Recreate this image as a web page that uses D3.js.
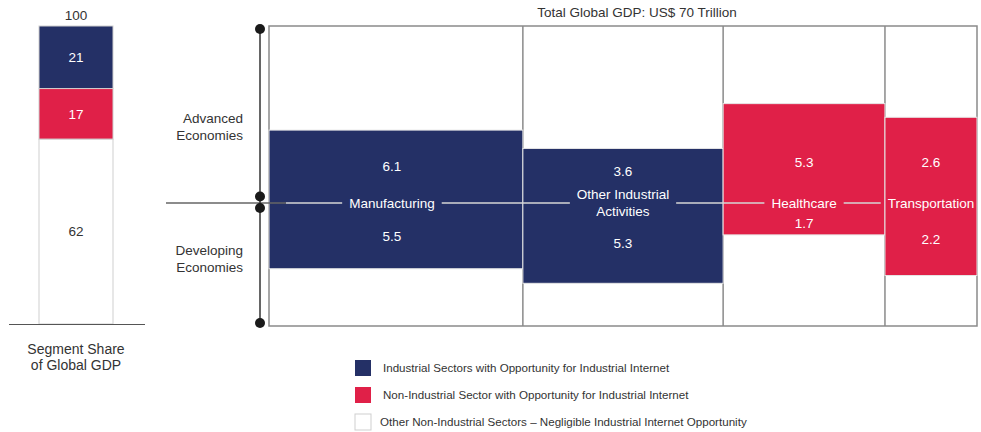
<!DOCTYPE html>
<html>
<head>
<meta charset="utf-8">
<script src="https://cdn.jsdelivr.net/npm/d3@7/dist/d3.min.js"></script>
<style>
  body { margin: 0; background: #fff; }
  text { font-family: "Liberation Sans", Arial, sans-serif; }
</style>
</head>
<body>
<svg id="chart" width="981" height="432"></svg>
<script>
// Segment share of global GDP (%), stacked from the top
const segmentNames = ["Industrial", "Non-Industrial", "Other"];
const segmentShares = [21, 17, 62];
const segmentTotal = 100;

// Sectors (columns) and their share of the US$ 70 trillion global GDP
const sectors = ["Manufacturing", "Other Industrial Activities", "Healthcare", "Transportation"];
const sectorLabelLines = [["Manufacturing"], ["Other Industrial", "Activities"], ["Healthcare"], ["Transportation"]];
const sectorGDP = [25.1, 19.8, 16.0, 9.1];          // US$ trillion
const sectorType = ["industrial", "industrial", "non-industrial", "non-industrial"];
const advancedValues = [6.1, 3.6, 5.3, 2.6];          // US$ trillion
const developingValues = [5.5, 5.3, 1.7, 2.2];        // US$ trillion
const regionShares = [59, 41];                         // Advanced / Developing economies, %
const totalGDP = 70;

const legendLabels = [
  "Industrial Sectors with Opportunity for Industrial Internet",
  "Non-Industrial Sector with Opportunity for Industrial Internet",
  "Other Non-Industrial Sectors \u2013 Negligible Industrial Internet Opportunity"
];

const NAVY = "#243066", RED = "#e02048", TEXT = "#333";
const FS = 13.5;
const fill = { "industrial": NAVY, "non-industrial": RED };

const svg = d3.select("#chart");

// ---------- Left: segment share stacked bar ----------
const segY = d3.scaleLinear().domain([0, segmentTotal]).range([324, 26]);
const segX0 = 39, segW = 74;
const segColors = [NAVY, RED, "#fff"];
let acc = segmentTotal;
const segs = segmentShares.map((v, i) => {
  const top = acc; acc -= v;
  return { v, top, bottom: acc, color: segColors[i] };
});
svg.append("g").selectAll("rect").data(segs).join("rect")
  .attr("x", segX0).attr("width", segW)
  .attr("y", d => segY(d.top)).attr("height", d => segY(d.bottom) - segY(d.top))
  .attr("fill", d => d.color).attr("stroke", "#cfcfcf").attr("stroke-width", 1);
svg.append("g").selectAll("text").data(segs).join("text")
  .attr("x", segX0 + segW / 2)
  .attr("y", d => (segY(d.top) + segY(d.bottom)) / 2)
  .attr("dy", "0.35em").attr("text-anchor", "middle")
  .attr("font-size", FS)
  .attr("fill", d => d.color === "#fff" ? TEXT : "#fff")
  .text(d => d.v);
svg.append("text").attr("x", segX0 + segW / 2).attr("y", segY(segmentTotal) - 11)
  .attr("dy", "0.35em").attr("text-anchor", "middle").attr("font-size", FS).attr("fill", TEXT)
  .text(segmentTotal);
svg.append("line").attr("x1", 9).attr("x2", 145).attr("y1", 324.5).attr("y2", 324.5)
  .attr("stroke", "#555").attr("stroke-width", 1.2);
svg.append("text").attr("x", 76).attr("y", 349).attr("dy", "0.35em").attr("text-anchor", "middle")
  .attr("font-size", 14).attr("fill", TEXT).text("Segment Share");
svg.append("text").attr("x", 76).attr("y", 365).attr("dy", "0.35em").attr("text-anchor", "middle")
  .attr("font-size", 14).attr("fill", TEXT).text("of Global GDP");

// ---------- Right: Marimekko of sector GDP by economy ----------
const fx0 = 269, fx1 = 977, fy0 = 26, fy1 = 326;
const x = d3.scaleLinear().domain([0, totalGDP]).range([fx0, fx1]);
const yRegion = d3.scaleLinear().domain([0, 100]).range([fy0, fy1]);
const midY = yRegion(regionShares[0]);
const pxPerTrillion = ((fx1 - fx0) * (fy1 - fy0)) / totalGDP;   // area per US$ trillion

let cum = 0;
const cols = sectors.map((s, i) => {
  const c = { name: s, lines: sectorLabelLines[i], x0: x(cum), x1: x(cum + sectorGDP[i]),
              type: sectorType[i], adv: advancedValues[i], dev: developingValues[i] };
  cum += sectorGDP[i];
  c.w = c.x1 - c.x0;
  c.cx = (c.x0 + c.x1) / 2 - (i === 0 ? 4 : 0);
  c.hAdv = c.adv * pxPerTrillion / c.w;
  c.hDev = c.dev * pxPerTrillion / c.w;
  return c;
});

svg.append("text").attr("x", 637).attr("y", 12).attr("dy", "0.35em").attr("text-anchor", "middle")
  .attr("font-size", FS).attr("fill", TEXT).text("Total Global GDP: US$ " + totalGDP + " Trillion");

// Frame and column dividers
const frame = svg.append("g").attr("stroke", "#8a8a8a").attr("stroke-width", 1.5).attr("fill", "none");
frame.append("rect").attr("x", fx0).attr("y", fy0).attr("width", fx1 - fx0).attr("height", fy1 - fy0);
frame.selectAll("line").data(cols.slice(1)).join("line")
  .attr("x1", d => d.x0).attr("x2", d => d.x0).attr("y1", fy0).attr("y2", fy1);

// Bars: advanced economies above the midline, developing below
const bars = svg.append("g");
cols.forEach(c => {
  bars.append("rect").attr("x", c.x0).attr("width", c.w)
    .attr("y", midY - c.hAdv).attr("height", c.hAdv + c.hDev)
    .attr("fill", fill[c.type]).attr("stroke", "#e6e6e6").attr("stroke-width", 1);
});

// Midline with sector labels
svg.append("line").attr("x1", 166).attr("x2", 286).attr("y1", midY).attr("y2", midY)
  .attr("stroke", "#666").attr("stroke-width", 1.5);
const lineG = svg.append("g");
const labelG = svg.append("g");
const gaps = [];
cols.forEach(c => {
  const n = c.lines.length;
  let widest = 0;
  c.lines.forEach((ln, j) => {
    const t = labelG.append("text").attr("x", c.cx)
      .attr("y", midY + (j - (n - 1) / 2) * 17)
      .attr("dy", "0.35em").attr("text-anchor", "middle").attr("font-size", FS).attr("fill", "#fff")
      .text(ln);
    widest = Math.max(widest, t.node().getComputedTextLength());
  });
  gaps.push([c.cx - widest / 2 - 7, c.cx + widest / 2 + 7]);
});
let segStart = 286;
const segLines = [];
gaps.forEach(g => { segLines.push([segStart, g[0]]); segStart = g[1]; });
segLines.push([segStart, 975]);
lineG.selectAll("line").data(segLines.filter(s => s[1] > s[0])).join("line")
  .attr("x1", d => d[0]).attr("x2", d => d[1]).attr("y1", midY).attr("y2", midY)
  .attr("stroke", "#d6d6d6").attr("stroke-width", 1.5);

// Value labels inside each half-bar
const clampDist = 41;
cols.forEach(c => {
  const extra = c.lines.length > 1 ? 8 : 0;
  const ya = midY - Math.min(Math.max(c.hAdv / 2, 24 + extra), clampDist);
  const yd = midY + Math.min(Math.max(c.hDev / 2, 20 + extra), clampDist);
  labelG.append("text").attr("x", c.cx).attr("y", ya).attr("dy", "0.35em").attr("text-anchor", "middle")
    .attr("font-size", FS).attr("fill", "#fff").text(c.adv);
  labelG.append("text").attr("x", c.cx).attr("y", yd).attr("dy", "0.35em").attr("text-anchor", "middle")
    .attr("font-size", FS).attr("fill", "#fff").text(c.dev);
});

// Region axis with end markers
const axisX = 260;
svg.append("line").attr("x1", axisX).attr("x2", axisX).attr("y1", 29).attr("y2", 323)
  .attr("stroke", "#333").attr("stroke-width", 1.5);
svg.append("g").selectAll("circle").data([29, midY - 6.5, midY + 5, 323]).join("circle")
  .attr("cx", axisX).attr("cy", d => d).attr("r", 5).attr("fill", "#1a1a1a");

const regionLabels = [["Advanced", "Economies"], ["Developing", "Economies"]];
const regionLabelY = [126.5, 259];
regionLabels.forEach((lines, i) => {
  lines.forEach((ln, j) => {
    svg.append("text").attr("x", 243).attr("y", regionLabelY[i] + (j - 0.5) * 17)
      .attr("dy", "0.35em").attr("text-anchor", "end").attr("font-size", FS).attr("fill", TEXT).text(ln);
  });
});

// Legend
const legendColors = [NAVY, RED, "#fff"];
const legendY = [360, 387, 414];
const lg = svg.append("g");
legendLabels.forEach((lab, i) => {
  lg.append("rect").attr("x", 355).attr("y", legendY[i]).attr("width", 16).attr("height", 16)
    .attr("fill", legendColors[i]).attr("stroke", i === 2 ? "#cfcfcf" : "none");
  lg.append("text").attr("x", i === 2 ? 380 : 383).attr("y", legendY[i] + 8).attr("dy", "0.35em")
    .attr("font-size", 11.6).attr("fill", TEXT).text(lab);
});
</script>
</body>
</html>
